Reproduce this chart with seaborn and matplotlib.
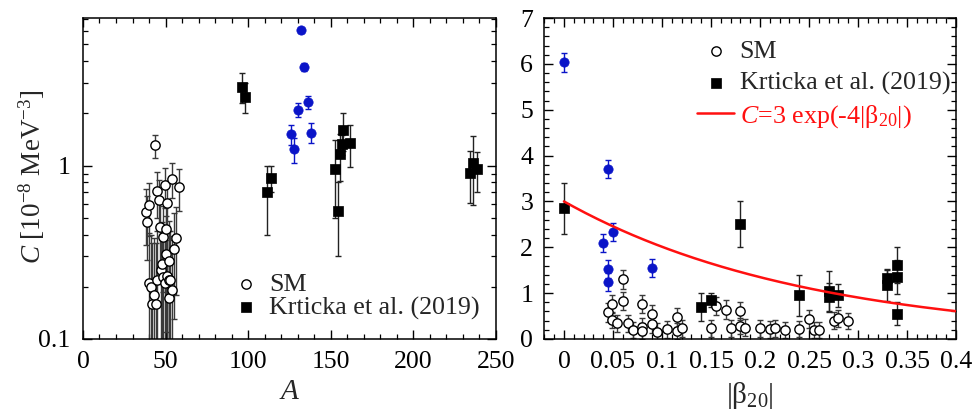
import numpy as np
import pandas as pd
import matplotlib
matplotlib.use("Agg")
import matplotlib.pyplot as plt
import seaborn as sns
from matplotlib.ticker import MultipleLocator, FixedLocator, FuncFormatter, LogLocator, NullFormatter

# ---------------- data ----------------
# SM values vs mass number A (left panel)
sm_A = [37.9, 38.9, 40.1, 40.0, 41.3, 41.9, 43.0, 43.7, 44.0, 44.8, 45.0, 46.0,
        46.6, 47.0, 48.0, 48.6, 48.6, 49.6, 49.8, 50.0, 50.0, 50.6, 50.8, 51.8,
        52.0, 52.0, 52.6, 54.0, 54.0, 55.0, 56.1, 58.1]
sm_C_A = [0.54, 0.475, 0.59, 0.21, 0.20, 0.16, 0.18, 1.31, 0.16, 0.71, 0.22, 0.63,
          0.445, 0.25, 0.27, 0.386, 0.227, 0.21, 0.77, 0.43, 0.31, 0.23, 0.61, 0.22,
          0.28, 0.172, 0.22, 0.84, 0.192, 0.33, 0.38, 0.75]
sm_err_A = [0.19, 0.19, 0.20, 0.20, 0.20, 0.20, 0.20, 0.20, 0.20, 0.21, 0.20, 0.20,
            0.20, 0.20, 0.20, 0.20, 0.20, 0.20, 0.20, 0.20, 0.20, 0.20, 0.20, 0.20,
            0.20, 0.20, 0.20, 0.19, 0.20, 0.20, 0.20, 0.20]

# SM values vs |beta20| (right panel)
sm_beta = [0.045, 0.049, 0.049, 0.054, 0.060, 0.060, 0.065, 0.070, 0.080, 0.080,
           0.080, 0.090, 0.090, 0.095, 0.105, 0.115, 0.115, 0.120, 0.150, 0.155,
           0.165, 0.170, 0.180, 0.180, 0.185, 0.200, 0.210, 0.215, 0.225, 0.240,
           0.250, 0.255, 0.260, 0.275, 0.280, 0.290]
sm_C_b = [0.58, 0.76, 0.41, 0.34, 1.30, 0.83, 0.34, 0.20, 0.76, 0.27,
          0.17, 0.54, 0.32, 0.16, 0.21, 0.47, 0.17, 0.23, 0.23, 0.72,
          0.64, 0.23, 0.61, 0.28, 0.25, 0.23, 0.21, 0.23, 0.20, 0.22,
          0.44, 0.20, 0.20, 0.40, 0.45, 0.39]
sm_err_b = [0.20, 0.20, 0.18, 0.18, 0.21, 0.20, 0.18, 0.18, 0.20, 0.18,
            0.18, 0.20, 0.18, 0.18, 0.18, 0.20, 0.18, 0.18, 0.18, 0.20,
            0.20, 0.18, 0.20, 0.18, 0.18, 0.18, 0.18, 0.18, 0.18, 0.18,
            0.20, 0.18, 0.18, 0.18, 0.18, 0.18]

# blue points
blue_A = [132, 134, 136, 130, 126, 138, 128]
blue_beta = [0.0, 0.045, 0.05, 0.04, 0.045, 0.09, 0.045]
blue_C = [6.03, 3.70, 2.33, 2.10, 1.52, 1.55, 1.24]
blue_err = [0.20, 0.20, 0.20, 0.20, 0.20, 0.20, 0.20]

# Krticka et al. (2019)
kr_A = [96, 98, 111.5, 114, 152.6, 154.5, 155.7, 156.7, 157.5, 161.9, 234.3, 236.2, 238.6]
kr_beta = [0.0, 0.18, 0.14, 0.15, 0.24, 0.34, 0.33, 0.33, 0.34, 0.34, 0.27, 0.27, 0.28]
kr_C = [2.85, 2.50, 0.70, 0.85, 0.95, 0.55, 1.17, 1.33, 1.61, 1.35, 0.91, 1.04, 0.95]
kr_err = [0.55, 0.50, 0.30, 0.15, 0.45, 0.25, 0.35, 0.18, 0.40, 0.37, 0.30, 0.45, 0.25]

# fit curve C = FIT_AMP * exp(-FIT_RATE*|beta20|)
FIT_AMP = 3.0
FIT_RATE = 4.0
fit_range = (0.0, 0.4)

# ---------------- style ----------------
sns.set_theme(style="ticks")
plt.rcParams["font.family"] = ["Liberation Serif", "DejaVu Serif"]
plt.rcParams.update({
    "mathtext.fontset": "custom",
    "mathtext.rm": "Liberation Serif",
    "mathtext.it": "Liberation Serif:italic",
    "mathtext.bf": "Liberation Serif:bold",
    "xtick.direction": "in", "ytick.direction": "in",
    "xtick.top": True, "ytick.right": True,
    "xtick.major.size": 6.5, "ytick.major.size": 6.5,
    "xtick.minor.size": 3.5, "ytick.minor.size": 3.5,
    "xtick.major.width": 1.0, "ytick.major.width": 1.0,
    "xtick.minor.width": 0.9, "ytick.minor.width": 0.9,
    "axes.linewidth": 1.1,
    "axes.edgecolor": "black",
    "xtick.color": "black", "ytick.color": "black",
    "xtick.labelsize": 18.5, "ytick.labelsize": 18.5,
})

fig = plt.figure(figsize=(9.75, 4.19), dpi=100)
axL = fig.add_axes([0.0851, 0.191, 0.4236, 0.766])
axR = fig.add_axes([0.5583, 0.191, 0.4223, 0.766])

sm_col = "#3a3a3a"
kr_ecol = "#222222"
blue = "#0a14c8"
ms = 6.7
eb_kw = dict(fmt="none", elinewidth=1.0, capsize=2.0, capthick=1.0)

# ---------------- left panel ----------------
dfL_sm = pd.DataFrame({"A": sm_A, "C": sm_C_A, "err": sm_err_A})
dfL_bl = pd.DataFrame({"A": blue_A, "C": blue_C, "err": blue_err})
dfL_kr = pd.DataFrame({"A": kr_A, "C": kr_C, "err": kr_err})

axL.set_yscale("log", nonpositive="clip")
axL.errorbar(dfL_sm["A"], dfL_sm["C"], yerr=dfL_sm["err"], ecolor=sm_col, zorder=2, **eb_kw)
axL.errorbar(dfL_kr["A"], dfL_kr["C"], yerr=dfL_kr["err"], ecolor=kr_ecol, zorder=2, **eb_kw)
axL.errorbar(dfL_bl["A"], dfL_bl["C"], yerr=dfL_bl["err"], ecolor=blue, zorder=2, **eb_kw)
sns.scatterplot(data=dfL_sm, x="A", y="C", ax=axL, marker="o", s=ms**2, color="white",
                edgecolor="black", linewidth=1.0, label="SM", zorder=3)
sns.scatterplot(data=dfL_bl, x="A", y="C", ax=axL, marker="o", s=ms**2, color=blue,
                edgecolor=blue, linewidth=0.5, zorder=3)
sns.scatterplot(data=dfL_kr, x="A", y="C", ax=axL, marker="s", s=ms**2, color="black",
                edgecolor="black", linewidth=0.5, label="Krticka et al. (2019)", zorder=3)

axL.set_xlim(0, 250)
axL.set_ylim(0.1, 7.1)
axL.xaxis.set_major_locator(MultipleLocator(50))
axL.xaxis.set_minor_locator(MultipleLocator(10))
axL.yaxis.set_major_locator(FixedLocator([0.1, 1]))
axL.yaxis.set_major_formatter(FuncFormatter(lambda v, p: "%g" % v))
axL.yaxis.set_minor_locator(LogLocator(base=10, subs=np.arange(2, 10)))
axL.yaxis.set_minor_formatter(NullFormatter())
axL.tick_params(axis="x", pad=9)
axL.tick_params(axis="y", pad=9)
axL.set_xlabel(r"$A$", fontsize=21, labelpad=4)
axL.set_ylabel(r"$C$ [10$^{-8}$ MeV$^{-3}$]", fontsize=19.5)
axL.yaxis.set_label_coords(-0.087, 0.505)
legL = axL.legend(loc="center left", bbox_to_anchor=(0.364, 0.133), frameon=False,
                  fontsize=18.7, handlelength=1.0, handletextpad=0.38, borderpad=0,
                  borderaxespad=0, labelspacing=0.0)

# ---------------- right panel ----------------
dfR_sm = pd.DataFrame({"b": sm_beta, "C": sm_C_b, "err": sm_err_b})
dfR_bl = pd.DataFrame({"b": blue_beta, "C": blue_C, "err": blue_err})
dfR_kr = pd.DataFrame({"b": kr_beta, "C": kr_C, "err": kr_err})

axR.errorbar(dfR_sm["b"], dfR_sm["C"], yerr=dfR_sm["err"], ecolor=sm_col, zorder=2, **eb_kw)
axR.errorbar(dfR_kr["b"], dfR_kr["C"], yerr=dfR_kr["err"], ecolor=kr_ecol, zorder=2, **eb_kw)
axR.errorbar(dfR_bl["b"], dfR_bl["C"], yerr=dfR_bl["err"], ecolor=blue, zorder=2, **eb_kw)
sns.scatterplot(data=dfR_sm, x="b", y="C", ax=axR, marker="o", s=ms**2, color="white",
                edgecolor="black", linewidth=1.0, label="SM", zorder=3)
sns.scatterplot(data=dfR_bl, x="b", y="C", ax=axR, marker="o", s=ms**2, color=blue,
                edgecolor=blue, linewidth=0.5, zorder=3)
sns.scatterplot(data=dfR_kr, x="b", y="C", ax=axR, marker="s", s=ms**2, color="black",
                edgecolor="black", linewidth=0.5, label="Krticka et al. (2019)", zorder=3)

bfit = np.linspace(fit_range[0], fit_range[1], 200)
dfit = pd.DataFrame({"b": bfit, "C": FIT_AMP * np.exp(-FIT_RATE * bfit)})
sns.lineplot(data=dfit, x="b", y="C", ax=axR, color="#ff1010", linewidth=1.8,
             label=r"$C$=3 exp(-4|β$_{20}$|)", zorder=4)

axR.set_xlim(-0.02, 0.4)
axR.set_ylim(0, 7)
axR.xaxis.set_major_locator(MultipleLocator(0.05))
axR.xaxis.set_minor_locator(MultipleLocator(0.01))
axR.xaxis.set_major_formatter(FuncFormatter(lambda v, p: "%g" % round(v, 3)))
axR.yaxis.set_major_locator(MultipleLocator(1))
axR.yaxis.set_minor_locator(MultipleLocator(0.2))
axR.tick_params(axis="x", pad=9)
axR.tick_params(axis="y", pad=8)
axR.set_xlabel(r"|β$_{20}$|", fontsize=21, labelpad=5)
axR.set_ylabel("")
legR = axR.legend(loc="center left", bbox_to_anchor=(0.371, 0.792), frameon=False,
                  fontsize=18.7, handlelength=1.44, handletextpad=0.2, borderpad=0,
                  borderaxespad=0, labelspacing=0.32)
for t in legR.get_texts():
    if "exp" in t.get_text():
        t.set_color("#ff1010")

fig.savefig("out.png", dpi=100)
